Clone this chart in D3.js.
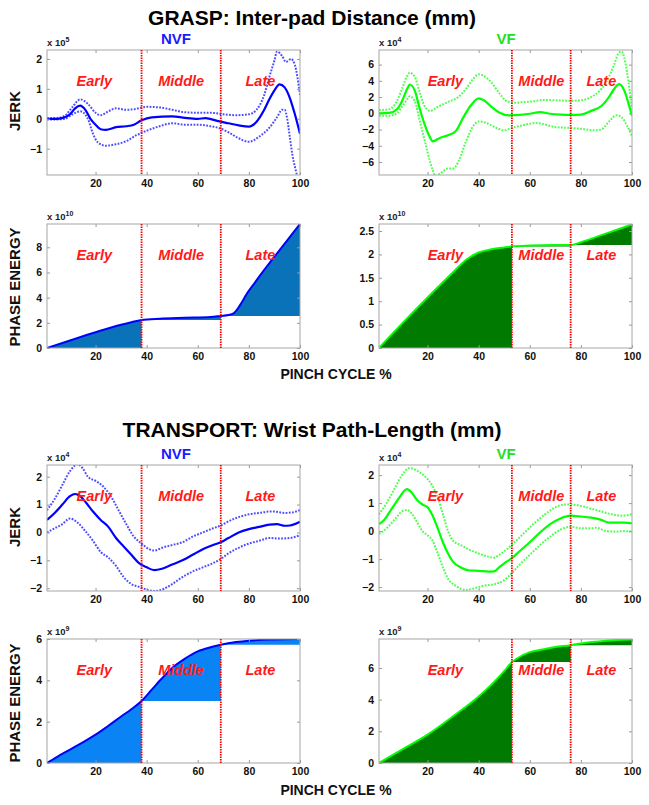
<!DOCTYPE html>
<html><head><meta charset="utf-8">
<script src="https://cdn.jsdelivr.net/npm/d3@7/dist/d3.min.js"></script>
<style>
body{margin:0;background:#fff;}
svg{display:block;font-family:"Liberation Sans",Arial,sans-serif;}
</style></head><body>
<svg id="c" width="649" height="805"></svg>
<script>
// ---------- DATA ----------
const xTicks = [20, 40, 60, 80, 100];
const phaseLabels = ["Early", "Middle", "Late"];
const phasesNVF = [38, 69];
const phasesVF = [53, 76];

// GRASP jerk NVF (x 10^5)
const graspNvfMean = [[1,0],[5,0],[8,0.05],[10,0.15],[12,0.35],[14,0.44],[16,0.3],[18,0.0],[20,-0.2],[22,-0.35],[24,-0.37],[28,-0.28],[32,-0.25],[35,-0.2],[38,-0.05],[42,0.05],[50,0.08],[55,0.03],[60,0.0],[63,0.02],[68,-0.08],[72,-0.15],[76,-0.22],[80,-0.26],[83,-0.1],[86,0.3],[88,0.65],[90,0.95],[92,1.15],[94,1.05],[96,0.7],[98,0.15],[100,-0.5]];
const graspNvfUpper = [[1,0.02],[5,0.03],[8,0.1],[11,0.4],[14,0.65],[17,0.5],[20,0.2],[22,0.12],[25,0.25],[28,0.35],[32,0.3],[35,0.32],[40,0.4],[45,0.38],[50,0.3],[55,0.22],[60,0.2],[65,0.2],[70,0.15],[75,0.12],[80,0.15],[83,0.3],[86,0.8],[88,1.4],[90,1.95],[91,2.25],[93,2.1],[94.5,1.9],[96.5,2.0],[98,1.8],[100,0.8]];
const graspNvfLower = [[1,-0.02],[5,-0.02],[8,0.0],[11,0.15],[14,0.25],[17,0.0],[19,-0.5],[21,-0.8],[24,-0.9],[28,-0.85],[32,-0.75],[36,-0.55],[40,-0.4],[45,-0.25],[50,-0.15],[55,-0.2],[60,-0.2],[65,-0.25],[68,-0.3],[72,-0.45],[76,-0.65],[80,-0.77],[84,-0.6],[88,-0.3],[91,0.05],[93,0.3],[94,0.3],[95,0.0],[96,-0.6],[97,-1.2],[98,-1.6],[99,-1.95]];
const graspNvfJerkTicks = [-1, 0, 1, 2];

// GRASP jerk VF (x 10^4)
const graspVfMean = [[1,0],[5,0.05],[8,0.5],[10,1.5],[12,3.0],[13,3.55],[15,2.8],[17,0.5],[19,-1.5],[21,-3.0],[22,-3.45],[25,-3.0],[28,-2.7],[31,-2.2],[34,-0.5],[37,1.0],[40,1.84],[42,1.6],[45,0.8],[48,0.1],[52,-0.25],[56,-0.2],[60,-0.05],[64,0.15],[68,-0.05],[72,-0.15],[76,-0.2],[80,-0.15],[84,0.3],[88,0.9],[91,2.0],[93,3.0],[95,3.6],[97,2.8],[99,0.8],[100,-0.3]];
const graspVfUpper = [[1,0.4],[5,0.5],[8,1.5],[10,3.0],[12,4.6],[13,5.0],[15,4.5],[17,2.5],[19,0.8],[21,0.3],[24,0.8],[28,1.4],[32,2.0],[35,3.0],[38,4.3],[40,4.8],[42,4.6],[45,3.8],[48,2.5],[51,1.5],[54,1.3],[58,1.4],[62,1.5],[65,1.65],[70,1.6],[76,1.55],[80,1.6],[84,2.0],[88,3.0],[91,4.5],[93,6.0],[95,7.5],[96,7.6],[97,6.8],[99,3.0],[100,0.5]];
const graspVfLower = [[1,-0.3],[5,-0.3],[8,0.0],[10,0.8],[12,1.7],[13,2.1],[15,1.5],[17,-1.0],[19,-3.5],[21,-6.0],[22,-7.0],[23,-7.7],[25,-7.4],[28,-6.8],[30,-6.8],[32,-6.0],[35,-3.5],[38,-1.5],[40,-1.0],[43,-1.2],[47,-1.8],[50,-2.1],[53,-1.8],[57,-1.5],[62,-1.2],[65,-1.3],[70,-1.7],[76,-1.8],[80,-1.9],[85,-2.1],[88,-2.0],[91,-1.0],[94,-0.25],[96,-0.5],[98,-1.5],[100,-2.8]];
const graspVfJerkTicks = [-6, -4, -2, 0, 2, 4, 6];

// GRASP phase energy (x 10^10)
const graspNvfEnergy = [[1,0],[10,0.6],[20,1.25],[30,1.85],[34,2.05],[38,2.22],[45,2.33],[55,2.4],[65,2.46],[69,2.55],[72,2.62],[74,2.75],[75,2.95],[77,3.55],[79,4.25],[82,5.1],[86,6.2],[90,7.25],[95,8.55],[100,9.85]];
const graspVfEnergy = [[1,0],[10,0.52],[20,1.08],[30,1.62],[35,1.88],[40,2.04],[45,2.11],[50,2.15],[53,2.17],[60,2.19],[70,2.2],[76,2.2],[80,2.26],[90,2.45],[100,2.64]];
const graspNvfEnergyTicks = [0, 2, 4, 6, 8];
const graspVfEnergyTicks = [0, 0.5, 1, 1.5, 2, 2.5];

// TRANSPORT jerk NVF (x 10^4)
const transNvfMean = [[1,0.45],[4,0.7],[7,1.0],[10,1.3],[12,1.38],[14,1.3],[16,1.1],[19,0.75],[22,0.45],[25,0.2],[28,-0.2],[31,-0.5],[34,-0.8],[37,-1.1],[40,-1.25],[43,-1.35],[46,-1.3],[50,-1.15],[54,-1.0],[58,-0.8],[62,-0.6],[66,-0.45],[69,-0.35],[72,-0.2],[76,0.0],[80,0.12],[84,0.2],[88,0.28],[91,0.3],[94,0.24],[96,0.25],[100,0.38]];
const transNvfUpper = [[1,0.8],[4,1.2],[7,1.7],[10,2.2],[13,2.45],[15,2.3],[17,2.0],[20,1.85],[23,1.65],[26,1.3],[29,0.8],[32,0.3],[35,-0.15],[38,-0.4],[41,-0.6],[43,-0.65],[46,-0.55],[50,-0.45],[54,-0.35],[58,-0.15],[62,0.0],[66,0.15],[69,0.25],[72,0.4],[76,0.55],[80,0.65],[84,0.7],[88,0.75],[90,0.75],[94,0.7],[97,0.72],[100,0.8]];
const transNvfLower = [[1,0.0],[4,0.15],[7,0.3],[10,0.5],[13,0.35],[16,0.05],[19,-0.3],[22,-0.7],[25,-0.9],[28,-1.2],[31,-1.6],[34,-1.85],[37,-1.95],[40,-2.05],[43,-2.1],[46,-2.05],[50,-1.85],[54,-1.6],[58,-1.4],[62,-1.25],[66,-1.1],[69,-0.95],[72,-0.75],[76,-0.55],[80,-0.4],[84,-0.3],[88,-0.2],[92,-0.22],[96,-0.2],[100,-0.1]];
const transNvfJerkTicks = [-2, -1, 0, 1, 2];

// TRANSPORT jerk VF (x 10^4)
const transVfMean = [[1,0.25],[3,0.4],[6,0.8],[9,1.2],[11,1.45],[12,1.5],[14,1.35],[16,1.1],[18,0.95],[20,0.85],[22,0.55],[24,0.1],[26,-0.4],[28,-0.8],[30,-1.1],[33,-1.3],[36,-1.4],[40,-1.42],[44,-1.45],[46,-1.44],[48,-1.3],[50,-1.15],[53,-0.97],[56,-0.72],[60,-0.4],[64,-0.05],[68,0.25],[72,0.45],[76,0.55],[80,0.52],[84,0.48],[88,0.4],[91,0.3],[94,0.3],[97,0.3],[100,0.28]];
const transVfUpper = [[1,0.6],[4,1.0],[7,1.5],[10,2.0],[13,2.25],[16,2.15],[19,1.95],[22,1.6],[24,1.2],[26,0.6],[28,0.0],[30,-0.35],[33,-0.5],[36,-0.65],[40,-0.8],[44,-0.92],[46,-0.95],[48,-0.85],[51,-0.65],[54,-0.4],[58,-0.05],[62,0.3],[66,0.6],[70,0.85],[74,0.95],[76,0.95],[80,0.9],[84,0.8],[88,0.7],[92,0.6],[96,0.55],[100,0.6]];
const transVfLower = [[1,-0.1],[4,0.1],[7,0.4],[10,0.7],[12,0.75],[14,0.6],[16,0.3],[18,0.0],[20,-0.15],[22,-0.35],[24,-0.8],[26,-1.3],[28,-1.7],[31,-1.95],[35,-2.1],[38,-2.05],[42,-1.95],[46,-1.9],[50,-1.75],[53,-1.5],[56,-1.2],[60,-0.85],[64,-0.5],[68,-0.2],[72,0.05],[76,0.15],[80,0.1],[84,0.1],[86,0.12],[90,0.0],[94,-0.02],[97,0.0],[100,-0.02]];
const transVfJerkTicks = [-2, -1, 0, 1, 2];

// TRANSPORT phase energy (x 10^9)
const transNvfEnergy = [[1,0],[5,0.3],[10,0.65],[15,1.0],[20,1.37],[25,1.8],[30,2.25],[34,2.6],[38,3.0],[42,3.55],[46,4.1],[50,4.6],[55,5.05],[60,5.4],[65,5.6],[69,5.72],[75,5.85],[80,5.92],[90,5.98],[100,6.0]];
const transVfEnergy = [[1,0],[10,0.85],[20,1.79],[30,2.95],[40,4.2],[45,4.95],[50,5.8],[53,6.37],[55,6.6],[60,7.0],[65,7.17],[70,7.33],[76,7.44],[80,7.55],[90,7.72],[100,7.8]];
const transNvfEnergyTicks = [0, 2, 4, 6];
const transVfEnergyTicks = [0, 2, 4, 6];

// ---------- DRAW ----------
const svg = d3.select("#c");
const BLUE = "#0000ff", GREEN = "#00ff00", RED = "#ff0000";
const cols = {L:[47,300], R:[379,632]};
const rows = {gj:[50,175], ge:[224,348], tj:[465,591], te:[639,763]};
let clipId = 0;

function frame(box, ydom, yticks, expo, yfmt) {
  const g = svg.append("g");
  const x = d3.scaleLinear().domain([1,100]).range([box.x0, box.x1]);
  const y = d3.scaleLinear().domain(ydom).range([box.y1, box.y0]);
  const id = "clip" + (clipId++);
  svg.append("clipPath").attr("id", id).append("rect")
    .attr("x", box.x0).attr("y", box.y0).attr("width", box.x1-box.x0).attr("height", box.y1-box.y0);
  const inner = g.append("g").attr("clip-path", `url(#${id})`);
  const over = g.append("g");
  const xa = d3.axisBottom(x).tickValues(xTicks).tickSize(-3).tickPadding(5);
  const ya = d3.axisLeft(y).tickValues(yticks).tickSize(-3).tickPadding(5).tickFormat(yfmt || d3.format("~g"));
  const gx = over.append("g").attr("transform", `translate(0,${box.y1})`).call(xa);
  const gy = over.append("g").attr("transform", `translate(${box.x0},0)`).call(ya);
  over.append("g").attr("transform", `translate(0,${box.y0})`).call(d3.axisTop(x).tickValues(xTicks).tickSize(-3).tickFormat(""));
  over.append("g").attr("transform", `translate(${box.x1},0)`).call(d3.axisRight(y).tickValues(yticks).tickSize(-3).tickFormat(""));
  over.selectAll(".domain").remove();
  over.selectAll(".tick line").attr("stroke", "#999");
  [gx, gy].forEach(a => a.selectAll("text").attr("font-size", 10.5).attr("font-weight", "bold").attr("fill", "#111"));
  over.append("rect").attr("x", box.x0).attr("y", box.y0).attr("width", box.x1-box.x0).attr("height", box.y1-box.y0)
    .attr("fill", "none").attr("stroke", "#a6a6a6").attr("stroke-width", 1);
  const t = over.append("text").attr("x", box.x0).attr("y", box.y0 - 4)
    .attr("font-size", 9.5).attr("font-weight", "bold").attr("fill", "#222");
  t.append("tspan").text("x 10");
  t.append("tspan").attr("dy", -4).attr("font-size", 7).text(expo);
  return {x, y, inner, over};
}

function phaseMarks(f, box, phases) {
  phases.forEach(p => {
    f.over.append("line").attr("x1", f.x(p)).attr("x2", f.x(p)).attr("y1", box.y0).attr("y2", box.y1)
      .attr("stroke", RED).attr("stroke-width", 1.8).attr("stroke-dasharray", "1.5,1");
  });
  const b = [1, phases[0], phases[1], 100];
  phaseLabels.forEach((lab, i) => {
    f.over.append("text").attr("x", f.x((b[i] + b[i+1]) / 2)).attr("y", box.y0 + 36)
      .attr("text-anchor", "middle").attr("font-size", 14.5).attr("font-weight", "bold")
      .attr("font-style", "italic").attr("fill", "#ff1a1a").text(lab);
  });
}

function jerk(col, row, ydom, yticks, expo, mean, upper, lower, color, phases) {
  const box = {x0: cols[col][0], x1: cols[col][1], y0: rows[row][0], y1: rows[row][1]};
  const f = frame(box, ydom, yticks, expo);
  const line = d3.line().x(d => f.x(d[0])).y(d => f.y(d[1])).curve(d3.curveMonotoneX);
  [upper, lower].forEach(s => f.inner.append("path").attr("d", line(s)).attr("fill", "none")
    .attr("stroke", color).attr("stroke-width", 2).attr("stroke-dasharray", "1.8,1.4").attr("opacity", 0.7));
  f.inner.append("path").attr("d", line(mean)).attr("fill", "none").attr("stroke", color).attr("stroke-width", 2.2);
  phaseMarks(f, box, phases);
}

function energy(col, row, ydom, yticks, expo, data, color, fill, phases, yfmt) {
  const box = {x0: cols[col][0], x1: cols[col][1], y0: rows[row][0], y1: rows[row][1]};
  const f = frame(box, ydom, yticks, expo, yfmt);
  const valAt = xv => data.find(d => d[0] === xv)[1];
  const bounds = [1, phases[0], phases[1], 100];
  const bases = [0, valAt(phases[0]), valAt(phases[1])];
  for (let i = 0; i < 3; i++) {
    const seg = data.filter(d => d[0] >= bounds[i] && d[0] <= bounds[i+1]);
    const area = d3.area().x(d => f.x(d[0])).y0(f.y(bases[i])).y1(d => f.y(d[1])).curve(d3.curveMonotoneX);
    f.inner.append("path").attr("d", area(seg)).attr("fill", fill).attr("stroke", "none");
  }
  const line = d3.line().x(d => f.x(d[0])).y(d => f.y(d[1])).curve(d3.curveMonotoneX);
  f.inner.append("path").attr("d", line(data)).attr("fill", "none").attr("stroke", color).attr("stroke-width", 2);
  phaseMarks(f, box, phases);
}

function txt(x, y, s, size, color, rot) {
  const t = svg.append("text").attr("x", x).attr("y", y).attr("text-anchor", "middle")
    .attr("font-size", size).attr("font-weight", "bold").attr("fill", color).text(s);
  if (rot) t.attr("transform", `rotate(-90,${x},${y})`);
  return t;
}
txt(312, 25, "GRASP: Inter-pad Distance (mm)", 21, "#000");
txt(312, 437, "TRANSPORT: Wrist Path-Length (mm)", 21, "#000");
txt(176, 44, "NVF", 15, "#1a1aff");
txt(506, 44, "VF", 15, "#22e022");
txt(176, 459, "NVF", 15, "#1a1aff");
txt(506, 459, "VF", 15, "#22e022");
txt(336, 379, "PINCH CYCLE %", 14, "#111");
txt(336, 795, "PINCH CYCLE %", 14, "#111");
txt(20, 111, "JERK", 15, "#111", true);
txt(20, 287, "PHASE ENERGY", 15, "#111", true);
txt(20, 527, "JERK", 15, "#111", true);
txt(20, 703, "PHASE ENERGY", 15, "#111", true);

jerk("L", "gj", [-1.88, 2.3], graspNvfJerkTicks, "5", graspNvfMean, graspNvfUpper, graspNvfLower, BLUE, phasesNVF);
jerk("R", "gj", [-7.6, 7.8], graspVfJerkTicks, "4", graspVfMean, graspVfUpper, graspVfLower, GREEN, phasesVF);
energy("L", "ge", [0, 9.85], graspNvfEnergyTicks, "10", graspNvfEnergy, BLUE, "#0a72b8", phasesNVF);
energy("R", "ge", [0, 2.65], graspVfEnergyTicks, "10", graspVfEnergy, GREEN, "#007a00", phasesVF);
jerk("L", "tj", [-2.1, 2.42], transNvfJerkTicks, "4", transNvfMean, transNvfUpper, transNvfLower, BLUE, phasesNVF);
jerk("R", "tj", [-2.14, 2.36], transVfJerkTicks, "4", transVfMean, transVfUpper, transVfLower, GREEN, phasesVF);
energy("L", "te", [0, 6.0], transNvfEnergyTicks, "9", transNvfEnergy, BLUE, "#0a84f5", phasesNVF);
energy("R", "te", [0, 7.83], transVfEnergyTicks, "9", transVfEnergy, GREEN, "#007a00", phasesVF);
</script></body></html>
